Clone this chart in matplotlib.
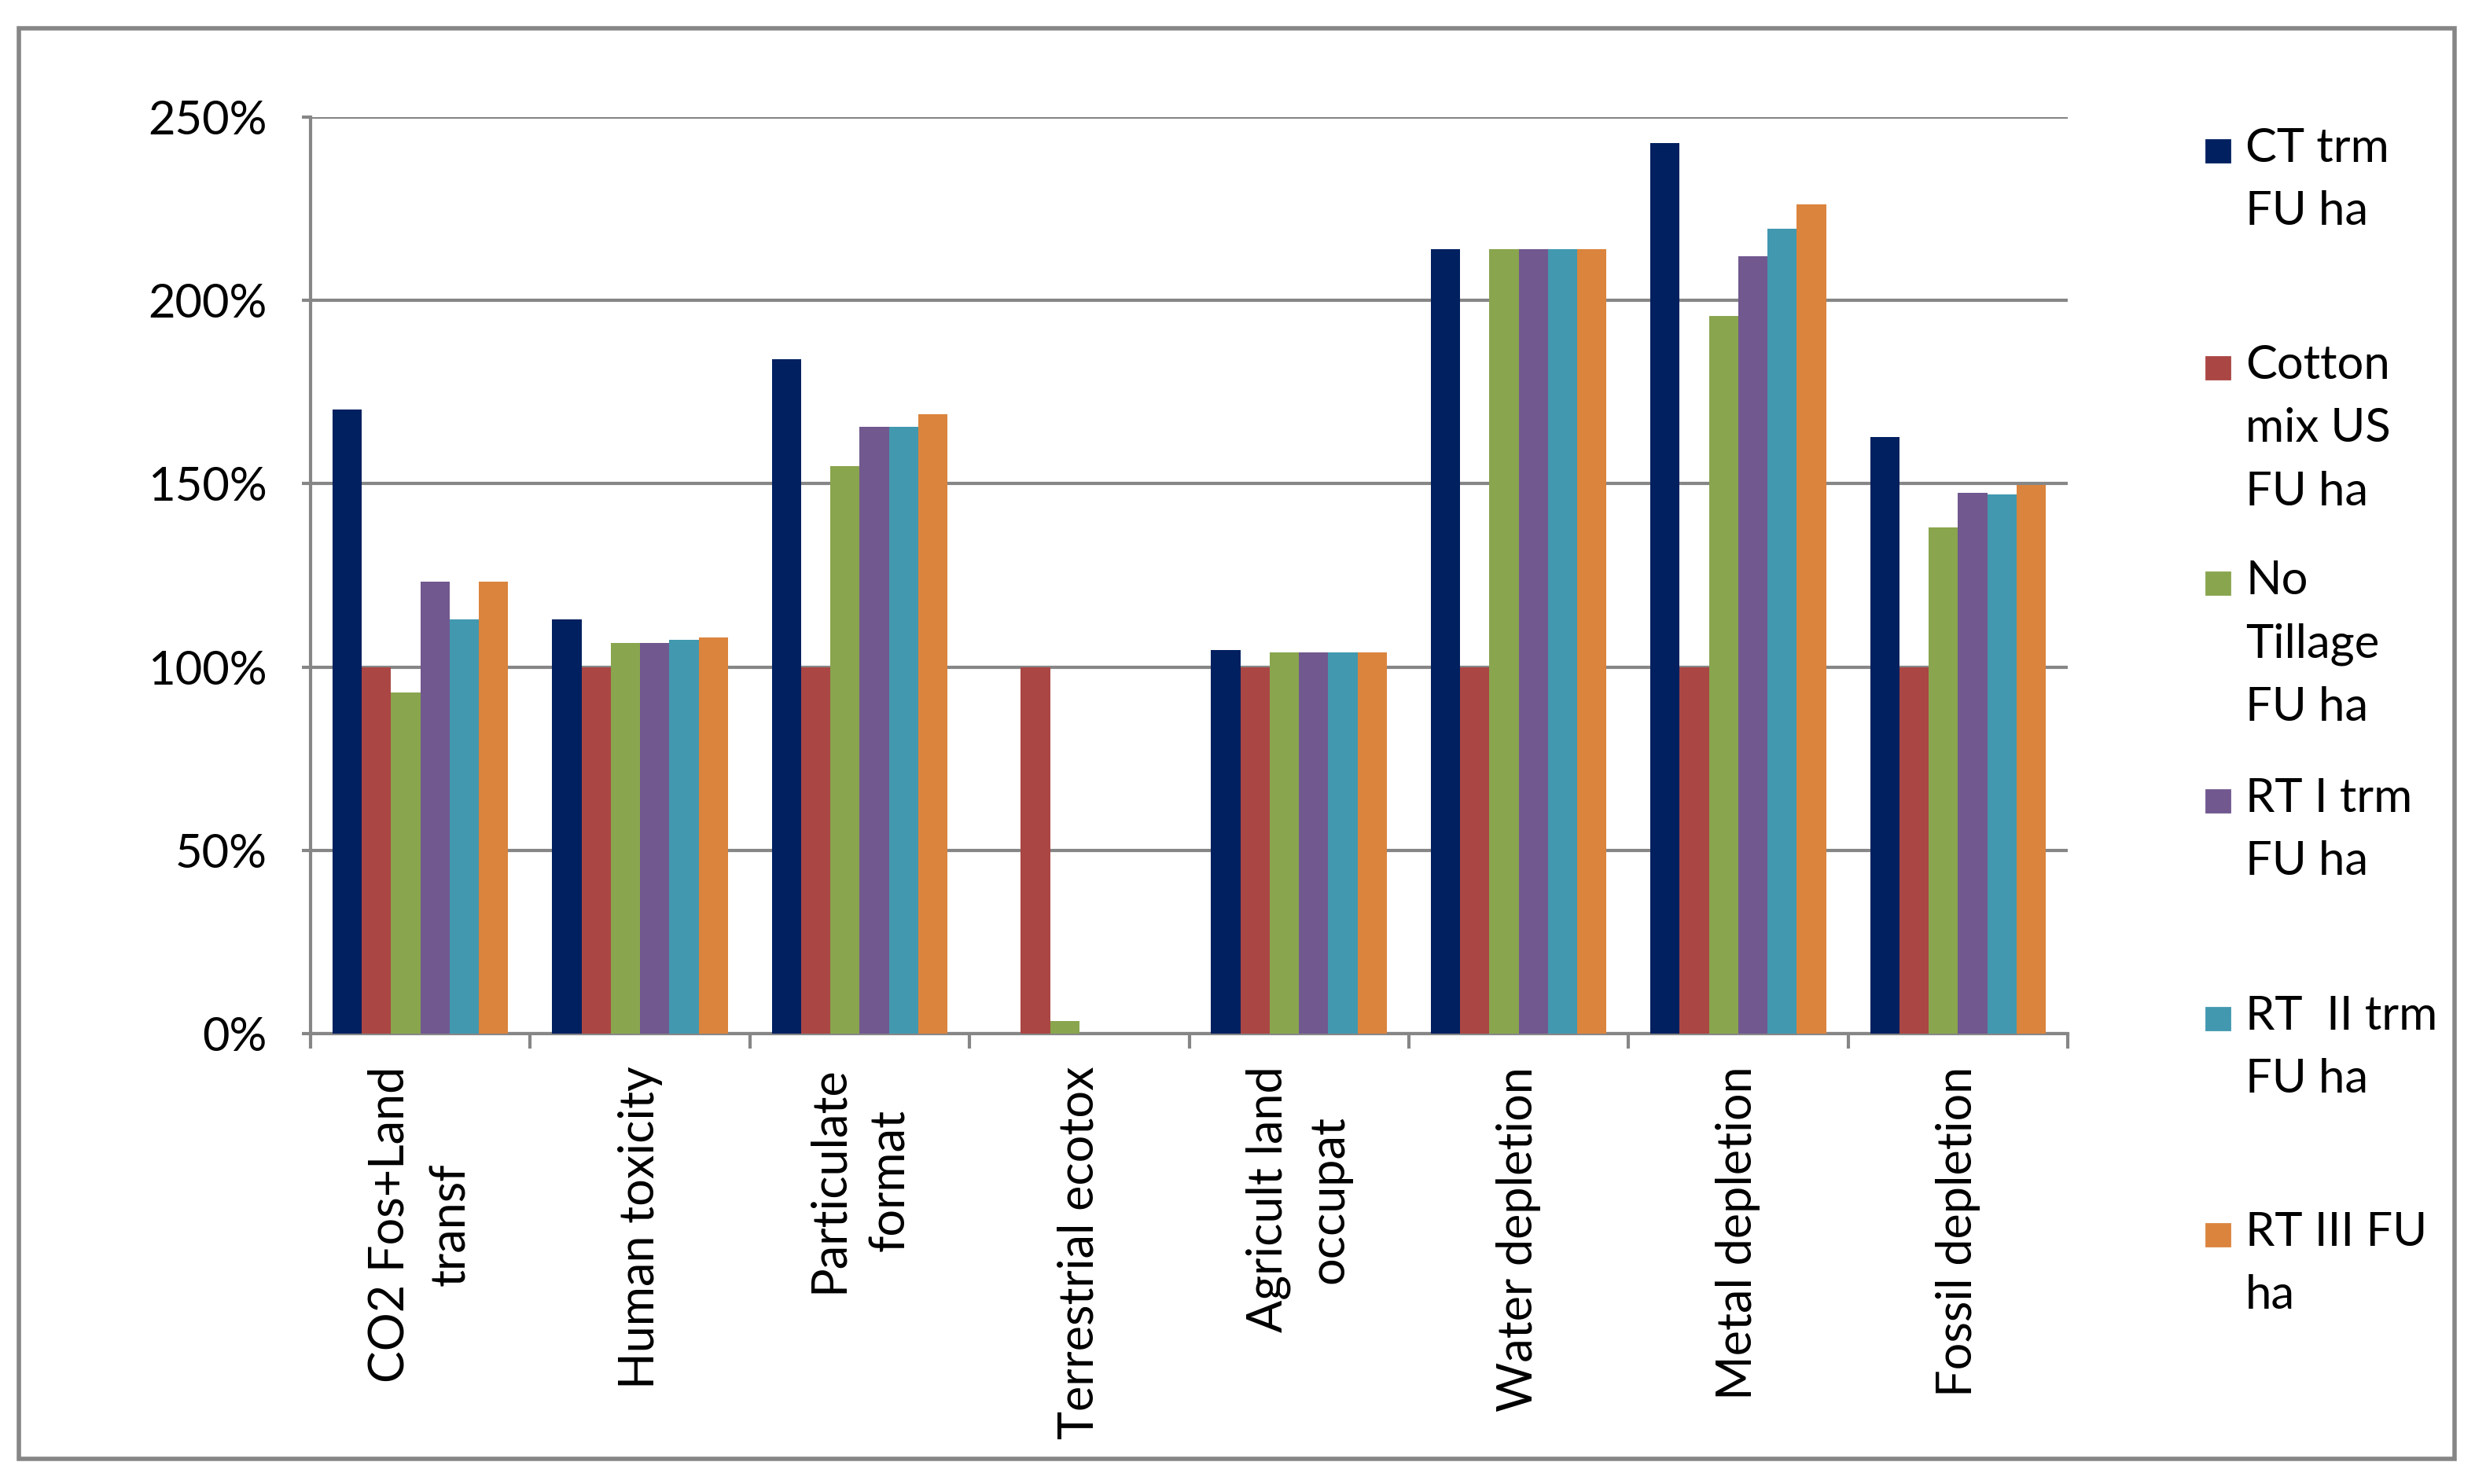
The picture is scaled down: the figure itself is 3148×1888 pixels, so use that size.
import matplotlib
matplotlib.use("Agg")
import matplotlib.pyplot as plt
from matplotlib.patches import Rectangle
from matplotlib.ticker import FixedLocator, PercentFormatter
import numpy as np

plt.rcParams['font.family'] = ['Lato', 'DejaVu Sans']

categories = ["CO2 Fos+Land\ntransf", "Human toxicity", "Particulate\nformat",
              "Terrestrial ecotox", "Agricult land\noccupat", "Water depletion",
              "Metal depletion", "Fossil depletion"]
series_names = ["CT trm\nFU ha", "Cotton\nmix US\nFU ha", "No\nTillage\nFU ha",
                "RT I trm\nFU ha", "RT  II trm\nFU ha", "RT III FU\nha"]
colors = ["#002060", "#AA4644", "#89A54E", "#71588F", "#4198AF", "#DB843D"]

ct_trm = [1.702, 1.129, 1.839, 0.0, 1.047, 2.140, 2.429, 1.627]
cotton_us = [1.0, 1.0, 1.0, 1.0, 1.0, 1.0, 1.0, 1.0]
no_tillage = [0.930, 1.066, 1.547, 0.034, 1.039, 2.140, 1.958, 1.381]
rt1_trm = [1.232, 1.066, 1.656, 0.0, 1.039, 2.140, 2.120, 1.476]
rt2_trm = [1.129, 1.075, 1.656, 0.0, 1.039, 2.140, 2.195, 1.470]
rt3 = [1.232, 1.081, 1.690, 0.0, 1.039, 2.140, 2.263, 1.497]
series = [ct_trm, cotton_us, no_tillage, rt1_trm, rt2_trm, rt3]

W, H = 3148, 1888
fig = plt.figure(figsize=(W / 200, H / 200), dpi=200)
ax = fig.add_axes([395 / W, 1 - 1315 / H, (2630 - 395) / W, (1315 - 149) / H])

grid_col = "#868686"
x = np.arange(len(categories))
bw = 1 / 7.5
for j, vals in enumerate(series):
    ax.bar(x + (j - 2.5) * bw, vals, width=bw, color=colors[j], zorder=3, linewidth=0)

ax.set_xlim(-0.5, len(categories) - 0.5)
ax.set_ylim(0, 2.5)
ax.set_yticks(np.arange(0, 2.51, 0.5))
ax.yaxis.set_major_formatter(PercentFormatter(1.0, decimals=0))
ax.yaxis.grid(True, color=grid_col, linewidth=1.5, zorder=0)
ax.set_axisbelow(True)

ax.set_xticks(x)
ax.set_xticklabels(categories, rotation=90, multialignment='center')
for lbl in ax.get_xticklabels():
    lbl.set_linespacing(1.45)
ax.xaxis.set_minor_locator(FixedLocator(np.arange(-0.5, len(categories), 1.0)))
ax.tick_params(axis='x', which='major', length=0, pad=15, labelsize=22)
ax.tick_params(axis='x', which='minor', length=7, width=1.5, color=grid_col, direction='out')
ax.tick_params(axis='y', length=4, width=1.5, color=grid_col, pad=16, labelsize=21.5)

for s in ['top', 'right']:
    ax.spines[s].set_visible(False)
for s in ['left', 'bottom']:
    ax.spines[s].set_color(grid_col)
    ax.spines[s].set_linewidth(1.5)

# legend drawn by hand so markers sit on the first text line
entry_y = [192, 468, 742, 1019, 1296, 1571]
for name, c, yy in zip(series_names, colors, entry_y):
    fig.patches.append(Rectangle((2806 / W, 1 - (yy + 14) / H), 30 / W, 28 / H,
                                 transform=fig.transFigure, color=c))
    fig.text(2856 / W, 1 - (yy - 30) / H, name, fontsize=21.5, va='top', ha='left',
             linespacing=1.6)

# outer border
fig.patches.append(Rectangle((24 / W, 1 - 1856 / H), (3122 - 24) / W, (1856 - 36) / H,
                             transform=fig.transFigure, fill=False,
                             edgecolor=grid_col, linewidth=2))

fig.savefig("out.png", dpi=200)
